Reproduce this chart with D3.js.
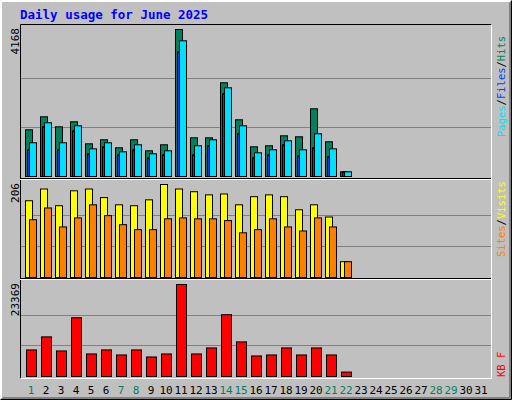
<!DOCTYPE html>
<html><head><meta charset="utf-8">
<script src="https://cdn.jsdelivr.net/npm/d3@7"></script>
<style>body{margin:0;background:#fff}</style>
</head><body>
<svg id="chart" width="512" height="400"></svg>
<script>
// daily values for June 2025
const days = d3.range(1, 32)
const hits   = [1324,1693,1409,1551,927,1041,814,1041,729,899,4168,1097,1097,2657,1608,842,871,1154,1126,1920,984,133]
const files  = [757,1409,757,1296,644,842,615,757,530,615,3536,615,871,2345,1211,530,615,899,587,814,559,133]
const pages  = [956,1523,956,1438,785,956,700,899,644,729,3848,871,1041,2515,1438,672,757,1012,757,1211,785,133]
const visits = [170,196,159,192,196,177,161,159,172,206,196,190,183,185,161,179,183,179,150,161,134,35]
const sites  = [128,154,112,132,161,137,117,106,106,130,132,130,130,126,99,106,130,112,103,132,112,35]
const kbytes = [6750,10070,6490,14930,5730,6750,5470,6750,4960,5730,23369,5730,7260,15700,8790,5220,5470,7260,5470,7260,5470,1125]
const weekend = [1,7,8,14,15,21,22,28,29]

const svg = d3.select('#chart')
const mono = 'DejaVu Sans Mono, monospace'

// frame with bevel
svg.append('rect').attr('width', 512).attr('height', 400).attr('fill', '#c0c0c0')
svg.append('path').attr('d', 'M0.5,399.5V0.5H511.5').attr('stroke', '#fff').attr('fill', 'none')
svg.append('path').attr('d', 'M1.5,398.5V1.5H510.5').attr('stroke', '#fff').attr('fill', 'none')
svg.append('path').attr('d', 'M0.5,399.5H511.5V0.5').attr('stroke', '#000').attr('fill', 'none')
svg.append('path').attr('d', 'M1.5,398.5H510.5V1.5').attr('stroke', '#808080').attr('fill', 'none')
svg.append('path').attr('d', 'M2.5,397.5H509.5V2.5').attr('stroke', '#808080').attr('fill', 'none')

svg.append('text').attr('x', 20).attr('y', 19)
  .attr('font-family', mono).attr('font-weight', 'bold').attr('font-size', 12.5)
  .attr('fill', '#0000ff').text('Daily usage for June 2025')

const x = d3.scaleLinear().domain([1, 31]).range([25, 475])
const L = 20, R = 491

const panels = [
  {top: 25, base: 176, maxY: 29, max: 4168, label: '4168'},
  {top: 180, base: 277, maxY: 184, max: 206, label: '206'},
  {top: 280, base: 376, maxY: 284, max: 23369, label: '23369'}
]
panels.forEach(p => {
  p.y = d3.scaleLinear().domain([0, p.max]).range([p.base, p.maxY])
  ;[1/3, 2/3].forEach(f => {
    const gy = Math.round(p.base - (p.base - p.maxY) * f) + 0.5
    svg.append('line').attr('x1', L).attr('x2', R).attr('y1', gy).attr('y2', gy)
      .attr('stroke', '#808080')
  })
  svg.append('text').attr('transform', `translate(19,${p.maxY - 1}) rotate(-90)`)
    .attr('text-anchor', 'end').attr('font-family', mono).attr('font-size', 11)
    .attr('fill', '#000').text(p.label)
})

// panel borders
svg.append('path').attr('d', `M${L + .5},378.5V24.5H${R + .5}`).attr('stroke', '#000').attr('fill', 'none')
svg.append('path').attr('d', `M${L + .5},378.5H${R + .5}V24.5`).attr('stroke', '#fff').attr('fill', 'none')
;[179.5, 279.5].forEach(yy => {
  svg.append('line').attr('x1', L).attr('x2', R).attr('y1', yy).attr('y2', yy).attr('stroke', '#fff')
  svg.append('line').attr('x1', L).attr('x2', R).attr('y1', yy - 1).attr('y2', yy - 1).attr('stroke', '#000')
})

function bars(vals, p, off, w, fill) {
  svg.append('g').selectAll('rect').data(vals).join('rect')
    .attr('x', (d, i) => x(i + 1) + off + .5)
    .attr('y', d => p.y(d) + .5)
    .attr('width', w).attr('height', d => p.base - p.y(d))
    .attr('fill', fill).attr('stroke', '#000')
}
bars(hits, panels[0], 0, 7, '#00805c')
bars(files, panels[0], 2, 2, '#0040ff')
bars(pages, panels[0], 4, 7, '#00e0ff')
bars(visits, panels[1], 0, 7, '#ffff00')
bars(sites, panels[1], 4, 7, '#ff8000')
bars(kbytes, panels[2], 1, 10, '#ff0000')

// day labels
svg.append('g').selectAll('text').data(days).join('text')
  .attr('x', d => x(d) + 6).attr('y', 394).attr('text-anchor', 'middle')
  .attr('font-family', mono).attr('font-size', 11)
  .attr('fill', d => weekend.includes(d) ? '#00805c' : '#000').text(d => d)

// right side legends, rotated
function legend(parts, yEnd) {
  const t = svg.append('text').attr('transform', `translate(505,${yEnd}) rotate(-90)`)
    .attr('font-family', mono).attr('font-size', 10.5)
  parts.forEach(([s, c]) => t.append('tspan').attr('fill', c).text(s))
}
legend([['Pages', '#00e0ff'], ['/', '#000'], ['Files', '#0040ff'], ['/', '#000'], ['Hits', '#00805c']], 137)
legend([['Sites', '#ff8000'], ['/', '#000'], ['Visits', '#ffff00']], 257)
legend([['KB F', '#ff0000']], 377)
</script>
</body></html>
